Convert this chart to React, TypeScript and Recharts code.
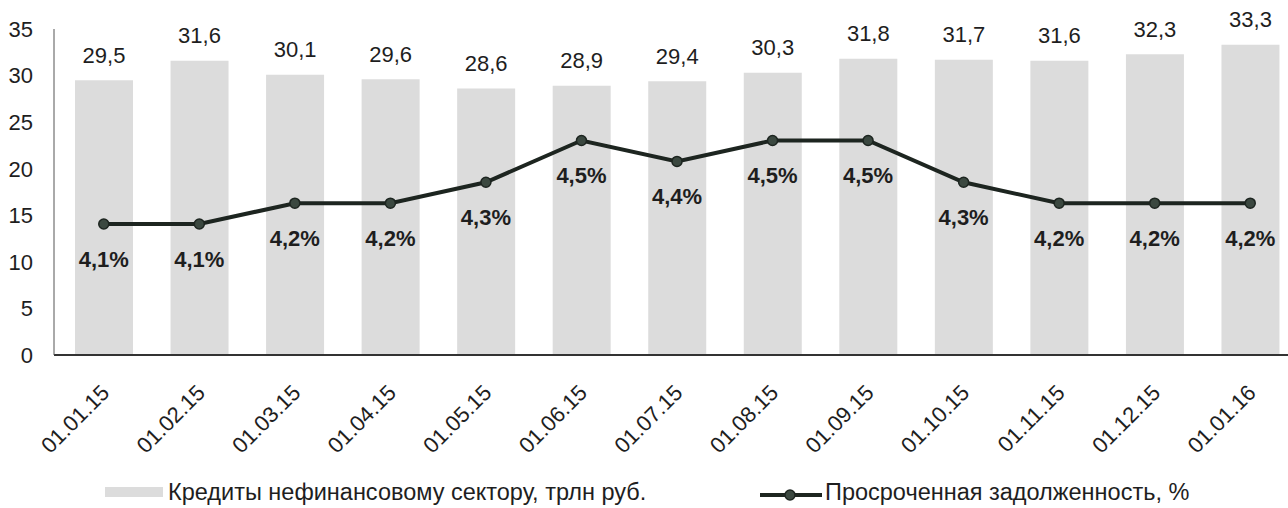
import React from 'react';
import {
  ComposedChart,
  Bar,
  Line,
  XAxis,
  YAxis,
  LabelList,
} from 'recharts';

const dates = [
  '01.01.15', '01.02.15', '01.03.15', '01.04.15', '01.05.15', '01.06.15', '01.07.15',
  '01.08.15', '01.09.15', '01.10.15', '01.11.15', '01.12.15', '01.01.16',
];
const credits = [29.5, 31.6, 30.1, 29.6, 28.6, 28.9, 29.4, 30.3, 31.8, 31.7, 31.6, 32.3, 33.3];
const overdue = [4.1, 4.1, 4.2, 4.2, 4.3, 4.5, 4.4, 4.5, 4.5, 4.3, 4.2, 4.2, 4.2];
const yTicks = [0, 5, 10, 15, 20, 25, 30, 35];

const creditsName = 'Кредиты нефинансовому сектору, трлн руб.';
const overdueName = 'Просроченная задолженность, %';

const FONT = '"Liberation Sans", Arial, sans-serif';
const TEXT = '#1e1e1e';
const BAR_FILL = '#dcdcdc';
const LINE = '#1d2520';

const data = dates.map((d, i) => ({ date: d, credits: credits[i], overdue: overdue[i] }));

const comma = (v: number) => v.toFixed(1).replace('.', ',');

const DateTick = (props: any) => {
  const { x, y, payload } = props;
  return (
    <g transform={`translate(${x + 7},${y + 39})`}>
      <text textAnchor="end" transform="rotate(-45)" fill={TEXT} fontSize={22} fontFamily={FONT}>
        {payload.value}
      </text>
    </g>
  );
};

const BarValue = (props: any) => {
  const { x, y, width, value } = props;
  return (
    <text
      x={x + width / 2}
      y={y - 25}
      textAnchor="middle"
      dominantBaseline="central"
      fill={TEXT}
      fontSize={22}
      fontFamily={FONT}
    >
      {comma(value)}
    </text>
  );
};

const PctValue = (props: any) => {
  const { x, y, value } = props;
  return (
    <text
      x={x}
      y={y + 35}
      textAnchor="middle"
      dominantBaseline="central"
      fill={TEXT}
      fontSize={22}
      fontWeight="bold"
      fontFamily={FONT}
    >
      {comma(value) + '%'}
    </text>
  );
};

const legendText: React.CSSProperties = {
  position: 'absolute',
  top: 479,
  fontFamily: FONT,
  fontSize: 23.5,
  color: TEXT,
  lineHeight: '26px',
  whiteSpace: 'nowrap',
};

export default function App() {
  return (
    <div style={{ position: 'absolute', left: 0, top: 0, width: 1288, height: 508, overflow: 'hidden', background: '#fff' }}>
      <ComposedChart
        width={1300}
        height={508}
        data={data}
        margin={{ top: 29, right: 2, bottom: 0, left: 0 }}
        barSize={58}
      >
        <XAxis
          dataKey="date"
          height={153}
          tickLine={false}
          tickSize={0}
          tickMargin={0}
          interval={0}
          padding={{ left: 2, right: 0 }}
          axisLine={{ stroke: '#333', strokeWidth: 2 }}
          tick={<DateTick />}
        />
        <YAxis
          yAxisId="left"
          width={54}
          domain={[0, 35]}
          ticks={yTicks}
          tickLine={false}
          tickSize={0}
          tickMargin={21}
          axisLine={{ stroke: '#555', strokeWidth: 1 }}
          tick={{ fill: TEXT, fontSize: 22, fontFamily: FONT }}
        />
        <YAxis yAxisId="pct" orientation="right" hide domain={[3.473, 5.034]} />
        <Bar yAxisId="left" dataKey="credits" name={creditsName} fill={BAR_FILL} isAnimationActive={false}>
          <LabelList dataKey="credits" content={<BarValue />} />
        </Bar>
        <Line
          yAxisId="pct"
          dataKey="overdue"
          name={overdueName}
          stroke={LINE}
          strokeWidth={4}
          dot={{ r: 5, fill: '#3b4840', stroke: LINE, strokeWidth: 1.5 }}
          isAnimationActive={false}
        >
          <LabelList dataKey="overdue" content={<PctValue />} />
        </Line>
      </ComposedChart>
      <div style={{ position: 'absolute', left: 105, top: 487, width: 58, height: 10, background: BAR_FILL }} />
      <div style={{ ...legendText, left: 168 }}>{creditsName}</div>
      <svg style={{ position: 'absolute', left: 758, top: 487 }} width={66} height={16}>
        <line x1={2} y1={8} x2={64} y2={8} stroke={LINE} strokeWidth={4} />
        <circle cx={32} cy={8} r={5} fill="#3b4840" stroke={LINE} strokeWidth={1.5} />
      </svg>
      <div style={{ ...legendText, left: 825 }}>{overdueName}</div>
    </div>
  );
}
